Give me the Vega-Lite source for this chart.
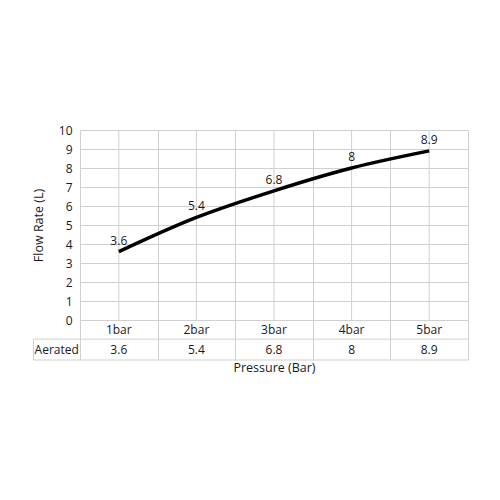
{
  "$schema": "https://vega.github.io/schema/vega-lite/v6.json",
  "width": 388,
  "height": 230,
  "autosize": {"type": "none"},
  "padding": {"left": 80, "top": 130, "right": 32, "bottom": 140},
  "background": "white",
  "config": {
    "view": {"stroke": null},
    "font": "Open Sans",
    "text": {"font": "Open Sans", "fontSize": 12, "color": "#1a1a1a"}
  },
  "data": {
    "values": [
      {"pressure": 1, "label": "1bar", "flow": 3.6, "series": "Aerated"},
      {"pressure": 2, "label": "2bar", "flow": 5.4, "series": "Aerated"},
      {"pressure": 3, "label": "3bar", "flow": 6.8, "series": "Aerated"},
      {"pressure": 4, "label": "4bar", "flow": 8, "series": "Aerated"},
      {"pressure": 5, "label": "5bar", "flow": 8.9, "series": "Aerated"}
    ]
  },
  "encoding": {
    "x": {
      "field": "pressure",
      "type": "quantitative",
      "scale": {"domain": [0.5, 5.5], "nice": false, "zero": false},
      "axis": {
        "title": "Pressure (Bar)",
        "titleFont": "Open Sans",
        "titleFontSize": 12.5,
        "titleFontWeight": "normal",
        "titleColor": "#1a1a1a",
        "titlePadding": 1,
        "labels": false,
        "ticks": false,
        "domain": false,
        "values": [0.5, 1.5, 2.5, 3.5, 4.5, 5.5],
        "grid": true,
        "gridColor": "#d0d0d0",
        "gridWidth": 1
      }
    },
    "y": {
      "type": "quantitative",
      "scale": {"domain": [-2.1, 10], "nice": false, "zero": false},
      "axis": {
        "title": "Flow Rate (L)",
        "titleFont": "Open Sans",
        "titleFontSize": 12.5,
        "titleFontWeight": "normal",
        "titleColor": "#1a1a1a",
        "titleY": 95,
        "titleX": -35,
        "titleAlign": "center",
        "titleAngle": -90,
        "labelFont": "Open Sans",
        "labelFontSize": 12,
        "labelColor": "#1a1a1a",
        "labelPadding": 8,
        "ticks": false,
        "domain": false,
        "values": [0, 1, 2, 3, 4, 5, 6, 7, 8, 9, 10],
        "grid": true,
        "gridColor": "#d0d0d0",
        "gridWidth": 1
      }
    }
  },
  "layer": [
    {
      "mark": {"type": "rule", "color": "#d0d0d0", "strokeWidth": 1},
      "encoding": {
        "x": {"field": "pressure", "type": "quantitative"},
        "y": {"datum": 0},
        "y2": {"datum": 10}
      }
    },
    {
      "transform": [{"filter": "datum.pressure == 1"}],
      "mark": {"type": "rule", "color": "#d0d0d0", "strokeWidth": 1},
      "encoding": {
        "x": {"datum": -0.1},
        "x2": {"datum": 5.5},
        "y": {"datum": -1}
      }
    },
    {
      "transform": [{"filter": "datum.pressure == 1"}],
      "mark": {"type": "rule", "color": "#d0d0d0", "strokeWidth": 1},
      "encoding": {
        "x": {"datum": -0.1},
        "x2": {"datum": 5.5},
        "y": {"datum": -2.1}
      }
    },
    {
      "transform": [{"filter": "datum.pressure == 1"}],
      "mark": {"type": "rule", "color": "#d0d0d0", "strokeWidth": 1},
      "encoding": {
        "x": {"datum": -0.1},
        "y": {"datum": -1},
        "y2": {"datum": -2.1}
      }
    },
    {
      "mark": {"type": "line", "color": "black", "strokeWidth": 3.5, "interpolate": "monotone"},
      "encoding": {
        "y": {"field": "flow", "type": "quantitative"}
      }
    },
    {
      "mark": {"type": "text", "dy": -11, "baseline": "middle"},
      "encoding": {
        "y": {"field": "flow", "type": "quantitative"},
        "text": {"field": "flow", "type": "quantitative"}
      }
    },
    {
      "mark": {"type": "text", "baseline": "middle"},
      "encoding": {
        "y": {"datum": -0.5},
        "text": {"field": "label"}
      }
    },
    {
      "mark": {"type": "text", "baseline": "middle"},
      "encoding": {
        "y": {"datum": -1.55},
        "text": {"field": "flow", "type": "quantitative"}
      }
    },
    {
      "transform": [{"filter": "datum.pressure == 1"}],
      "mark": {"type": "text", "baseline": "middle"},
      "encoding": {
        "x": {"datum": 0.2},
        "y": {"datum": -1.55},
        "text": {"field": "series"}
      }
    }
  ]
}
